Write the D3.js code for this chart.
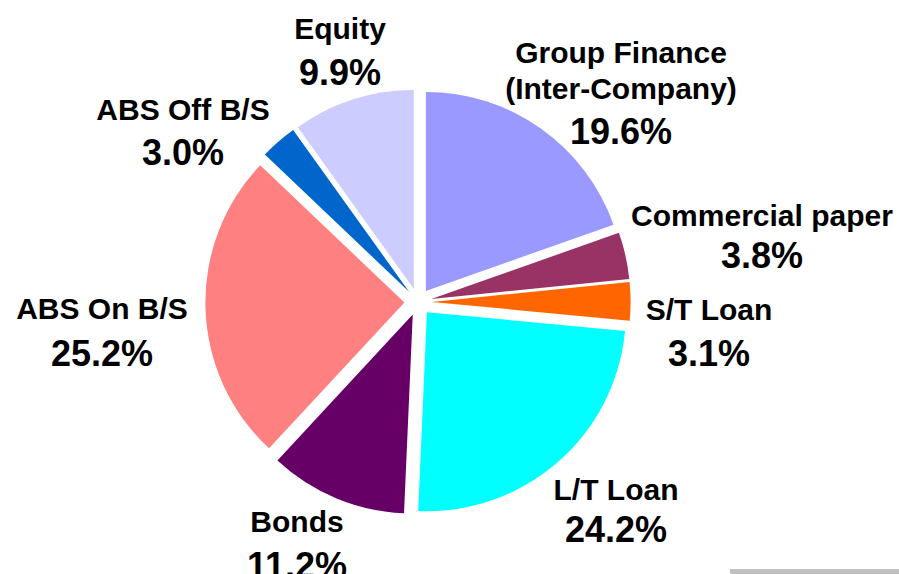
<html>
<head>
<script src="https://d3js.org/d3.v7.min.js"></script>
<style>
  body { margin: 0; background: #fff; }
  svg { font-family: "Liberation Sans", Arial, sans-serif; font-weight: bold; }
  .name { font-size: 30px; }
  .pct { font-size: 36px; }
</style>
</head>
<body>
<div id="chart"></div>
<script>
// funding mix, clockwise from 12 o'clock
var categories = ["Group Finance|(Inter-Company)", "Commercial paper", "S/T Loan", "L/T Loan",
                  "Bonds", "ABS On B/S", "ABS Off B/S", "Equity"];
var shares = [19.6, 3.8, 3.1, 24.2, 11.2, 25.2, 3.0, 9.9];
var colors = ["#9999FF", "#993366", "#FF6600", "#00FFFF", "#660066", "#FF8080", "#0066CC", "#CCCCFF"];

// label anchor (centre x, first baseline y, percent baseline y, line step)
var labelPos = [
  [621, 63, 144, 36], [762, 226, 268, 0], [709, 320, 366, 0], [616, 500, 542, 0],
  [297, 532, 578, 0], [102, 319, 366, 0], [183, 120, 165, 0], [340, 39, 85, 0]
];

var width = 899, height = 574;
var cx = 418, cy = 302, radius = 199, explode = 13.6;

var svg = d3.select("#chart").append("svg")
  .attr("width", width)
  .attr("height", height);

var pie = d3.pie().sort(null).value(d => d);
var arc = d3.arc().innerRadius(0).outerRadius(radius);

var slices = pie(shares);

var g = svg.append("g").attr("transform", `translate(${cx},${cy})`);

g.selectAll("path")
  .data(slices).enter()
  .append("path")
  .attr("d", arc)
  .attr("fill", (d, i) => colors[i])
  .attr("transform", function(d) {
    var a = (d.startAngle + d.endAngle) / 2;
    return `translate(${explode * Math.sin(a)},${-explode * Math.cos(a)})`;
  });

/* labels */
var labels = svg.selectAll(".lab")
  .data(slices).enter()
  .append("g")
  .attr("class", "lab");

labels.each(function(d, i) {
  var p = labelPos[i];
  var lines = categories[i].split("|");
  var sel = d3.select(this);
  lines.forEach(function(t, k) {
    sel.append("text")
      .attr("class", "name")
      .attr("x", p[0])
      .attr("y", p[1] + k * p[3])
      .attr("text-anchor", "middle")
      .text(t);
  });
  sel.append("text")
    .attr("class", "pct")
    .attr("x", p[0])
    .attr("y", p[2])
    .attr("text-anchor", "middle")
    .text(d3.format(".1f")(shares[i]) + "%");
});

// thin grey rule in the bottom-right corner
svg.append("rect")
  .attr("x", 730).attr("y", 569)
  .attr("width", 169).attr("height", 5)
  .attr("fill", "#c0c0c0");
</script>
</body>
</html>
